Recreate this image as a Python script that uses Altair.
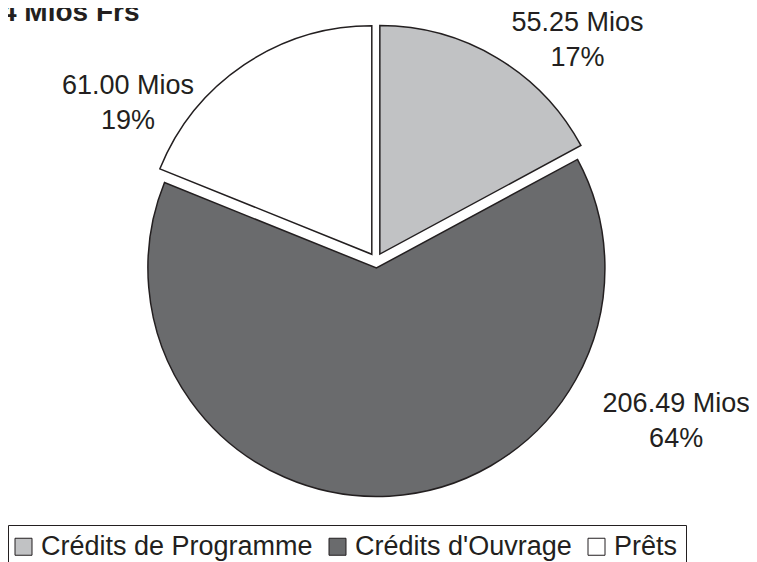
import altair as alt
import pandas as pd

# ---- data ----
categories = ["Crédits de Programme", "Crédits d'Ouvrage", "Prêts"]
values = [55.25, 206.49, 61.00]
value_labels = ["55.25 Mios", "206.49 Mios", "61.00 Mios"]
percent_labels = ["17%", "64%", "19%"]
title_text = "4 Mios Frs"

# ---- styling / layout ----
colors = ["#c1c2c4", "#6a6b6d", "#ffffff"]
label_angle_deg = [40.25, 115.6, 305.2]   # label anchor angle (clockwise from top)
label_radius = [311.8, 332.8, 303.5]      # label anchor distance from pie centre
CX, CY, R, EXPLODE = 368, 252.5, 228.5, 7.5
FONT = "Liberation Sans"
INK = "#231f20"

df = pd.DataFrame({
    "cat": categories,
    "value": values,
    "order": list(range(len(categories))),
    "label": [f"{v}\n{p}" for v, p in zip(value_labels, percent_labels)],
    "la": label_angle_deg,
    "lr": label_radius,
})

base = (
    alt.Chart(df)
    .transform_joinaggregate(total="sum(value)")
    .transform_window(cum="sum(value)", sort=[alt.SortField("order")], frame=[None, 0])
    .transform_calculate(t0="(datum.cum - datum.value) / datum.total * 2 * PI")
    .transform_calculate(t1="datum.cum / datum.total * 2 * PI")
    .transform_calculate(mid="(datum.t0 + datum.t1) / 2")
    .transform_calculate(px=f"{CX} + {EXPLODE} * sin(datum.mid)")
    .transform_calculate(py=f"{CY} - {EXPLODE} * cos(datum.mid)")
)

arcs = base.mark_arc(outerRadius=R, stroke=INK, strokeWidth=1.5).encode(
    x=alt.X("px:Q", scale=None, axis=None),
    y=alt.Y("py:Q", scale=None, axis=None),
    theta=alt.Theta("t0:Q", scale=None),
    theta2="t1:Q",
    fill=alt.Fill(
        "cat:N",
        scale=alt.Scale(domain=categories, range=colors),
        sort=categories,
        legend=alt.Legend(
            orient="none",
            legendX=0,
            legendY=517,
            direction="horizontal",
            columns=3,
            title=None,
            symbolType="square",
            symbolSize=289,
            symbolStrokeColor=INK,
            symbolStrokeWidth=1,
            symbolOffset=-6,
            labelFont=FONT,
            labelFontSize=27,
            labelColor=INK,
            labelLimit=600,
            labelOffset=4,
            columnPadding=14,
            padding=8,
            strokeColor=INK,
            fillColor="white",
        ),
    ),
)

labels = (
    alt.Chart(df)
    .transform_calculate(ang="datum.la * PI / 180")
    .mark_text(font=FONT, fontSize=27, color=INK, lineBreak="\n", lineHeight=35,
               align="center", baseline="middle")
    .encode(
        x=alt.value(CX),
        y=alt.value(CY),
        theta=alt.Theta("ang:Q", scale=None),
        radius=alt.Radius("lr:Q", scale=None),
        text="label:N",
    )
)

title = (
    alt.Chart(pd.DataFrame({"t": [title_text]}))
    .mark_text(font=FONT, fontSize=28, fontWeight="bold", align="left",
               baseline="alphabetic", color=INK)
    .encode(x=alt.value(-7), y=alt.value(13), text="t:N")
)

chart = (
    alt.layer(arcs, labels, title)
    .properties(width=741, height=560, padding=0,
                autosize=alt.AutoSizeParams(type="none"))
    .configure_view(strokeWidth=0)
)

chart.save("out.html", embed_options={"renderer": "svg", "actions": False})
